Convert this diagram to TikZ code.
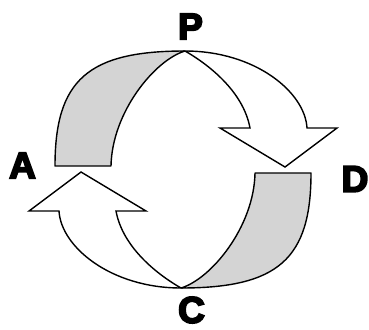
\documentclass[tikz,border=0pt]{standalone}
\usepackage{fontspec}
\usepackage{tikz}
\usetikzlibrary{positioning,calc}
\newfontfamily\lblfont[UprightFont={* Bold}, FakeBold=5]{Liberation Sans}

\begin{document}
\begin{tikzpicture}[
      x=1pt, y=-1pt,
      band/.style={draw=black, fill=black!17, line width=1.4pt, line join=round},
      flow/.style={draw=black, fill=white, line width=1.4pt, line join=miter},
      letter/.style={font=\lblfont\fontsize{37}{37}\selectfont, inner sep=0pt}]

    \useasboundingbox (0,0) rectangle (369,329);

    % upper half: grey back side, white arrow towards D
    \path[band] (55,166) .. controls (55,80) and (88,51) .. (185,51)
      .. controls (155,60) and (112,112) .. (111,166) -- cycle;
    \path[flow] (185,51) .. controls (255,51) and (305,92) .. (307,128)
      -- (337,128) -- (285,167) -- (220,128) -- (250,128)
      .. controls (243,90) and (206,63) .. (185,51) -- cycle;

    % lower half: grey back side, white arrow towards A
    \path[band] (311,173) .. controls (311,259) and (278,288) .. (181,288)
      .. controls (211,279) and (254,227) .. (255,173) -- cycle;
    \path[flow] (181,288) .. controls (111,288) and (61,247) .. (59,211)
      -- (29,211) -- (81,172) -- (146,211) -- (116,211)
      .. controls (123,249) and (160,276) .. (181,288) -- cycle;

    \node[letter] (P) at (190.5,26.5) {P};
    \node[letter] (D) at (355,179) {D};
    \node[letter] (C) at (191.5,310) {C};
    \node[letter] (A) at (22.5,165.5) {A};
  \end{tikzpicture}
\end{document}
